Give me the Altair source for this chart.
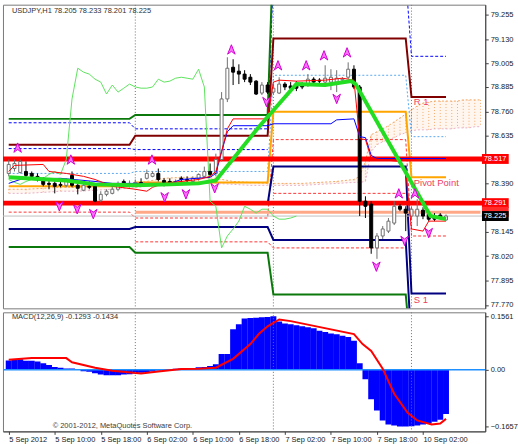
import altair as alt
import pandas as pd

# ---------------- USDJPY H1 candles (bar 0 = 5 Sep 2012 02:00) ----------------
opens = [78.443, 78.468, 78.448, 78.453, 78.443, 78.428, 78.412, 78.392, 78.392, 78.387,
         78.382, 78.433, 78.382, 78.357, 78.377, 78.377, 78.306, 78.336, 78.341, 78.362,
         78.402, 78.387, 78.387, 78.397, 78.418, 78.428, 78.443, 78.407, 78.402, 78.397,
         78.418, 78.412, 78.402, 78.418, 78.428, 78.453, 78.443, 78.514, 78.824, 78.986,
         78.966, 78.951, 78.935, 78.915, 78.854, 78.895, 78.859, 78.854, 78.900, 78.890,
         78.895, 78.895, 78.895, 78.925, 78.920, 78.910, 78.910, 78.910, 78.920, 78.935,
         78.976, 78.885, 78.301, 78.286, 78.062, 78.123, 78.148, 78.189, 78.275, 78.260,
         78.225, 78.225, 78.255, 78.235, 78.225, 78.230, 78.205]
highs = [78.514, 78.514, 78.514, 78.504, 78.453, 78.443, 78.423, 78.412, 78.402, 78.407,
         78.418, 78.453, 78.402, 78.397, 78.402, 78.387, 78.352, 78.362, 78.377, 78.402,
         78.412, 78.407, 78.412, 78.418, 78.463, 78.453, 78.468, 78.418, 78.418, 78.412,
         78.428, 78.428, 78.428, 78.443, 78.478, 78.494, 78.544, 78.859, 79.037, 79.027,
         79.001, 78.971, 78.951, 78.920, 78.910, 78.910, 78.900, 78.935, 78.910, 78.910,
         78.915, 78.910, 78.951, 78.935, 78.930, 78.996, 78.976, 78.971, 78.935, 79.011,
         78.996, 78.895, 78.326, 78.301, 78.138, 78.174, 78.215, 78.301, 78.286, 78.275,
         78.275, 78.311, 78.270, 78.250, 78.240, 78.240, 78.233]
lows = [78.428, 78.453, 78.443, 78.418, 78.423, 78.402, 78.377, 78.362, 78.341, 78.372,
        78.372, 78.372, 78.336, 78.352, 78.362, 78.296, 78.296, 78.326, 78.336, 78.352,
        78.372, 78.372, 78.377, 78.382, 78.412, 78.423, 78.402, 78.377, 78.382, 78.387,
        78.397, 78.392, 78.392, 78.407, 78.423, 78.428, 78.428, 78.504, 78.808, 78.895,
        78.900, 78.910, 78.895, 78.844, 78.844, 78.849, 78.849, 78.849, 78.869, 78.859,
        78.864, 78.874, 78.885, 78.900, 78.900, 78.900, 78.869, 78.859, 78.910, 78.925,
        78.874, 78.225, 78.215, 78.032, 78.006, 78.108, 78.138, 78.179, 78.250, 78.148,
        78.209, 78.174, 78.209, 78.199, 78.199, 78.209, 78.201]
closes = [78.489, 78.494, 78.504, 78.433, 78.428, 78.412, 78.387, 78.387, 78.377, 78.382,
          78.407, 78.382, 78.367, 78.382, 78.372, 78.301, 78.336, 78.352, 78.362, 78.392,
          78.382, 78.392, 78.397, 78.392, 78.443, 78.443, 78.412, 78.397, 78.387, 78.402,
          78.412, 78.407, 78.418, 78.438, 78.453, 78.438, 78.514, 78.824, 78.981, 78.961,
          78.951, 78.925, 78.910, 78.849, 78.895, 78.859, 78.879, 78.900, 78.885, 78.879,
          78.879, 78.885, 78.925, 78.910, 78.915, 78.930, 78.935, 78.930, 78.925, 78.976,
          78.885, 78.301, 78.275, 78.062, 78.123, 78.159, 78.199, 78.275, 78.260, 78.240,
          78.260, 78.260, 78.225, 78.209, 78.209, 78.215, 78.225]

# time axis
x_tick_idx = [0, 8, 16, 24, 32, 40, 48, 56, 64, 72]
x_tick_txt = ["5 Sep 2012", "5 Sep 10:00", "5 Sep 18:00", "6 Sep 02:00", "6 Sep 10:00",
              "6 Sep 18:00", "7 Sep 02:00", "7 Sep 10:00", "7 Sep 18:00", "10 Sep 02:00"]
day_breaks = [22, 46, 70]
day_first = [0, 22, 46, 70]
day_last = [21, 45, 69, 76]

price_ticks = [79.255, 79.130, 79.005, 78.885, 78.760, 78.635, 78.390, 78.145,
               78.020, 77.895, 77.770]

# daily pivot levels (one value per trading day, None = not drawn)
lvl_maroon = [78.590, 78.636, 79.133, 78.834]
lvl_orange = [78.377, 78.397, 78.758, 78.423]
lvl_navy_a = [78.291, 78.286, 78.478, 77.829]
lvl_navy_b = [78.159, 78.169, 78.103, 77.550]
lvl_green_a = [78.722, 78.742, 79.600, None]
lvl_green_b = [78.067, 78.037, 77.824, 77.500]
lvl_blue_a = [78.702, 78.671, 79.450, 79.042]
lvl_blue_b = [78.570, 78.565, None, None]
lvl_sky = [78.443, 78.453, 78.945, 78.631]
lvl_red_a = [78.245, 78.215, 78.616, 78.123]
lvl_red_b = [None, 78.093, 78.062, None]
lvl_red_c = [None, None, 78.341, None]

# horizontal lines
hline_red = [78.517, 78.291]
hline_salmon = 78.245
bid_price = 78.225

# Ichimoku: Tenkan-sen / Kijun-sen vertices
tenkan_i = [0, 1, 6, 7, 10, 13, 15, 18, 22, 24, 25, 27, 30, 33, 35, 36, 37, 38, 39, 45,
            46, 47, 50, 55, 58, 60, 61, 62, 63, 68, 69, 70, 72, 73, 76]
tenkan_p = [78.453, 78.484, 78.489, 78.453, 78.443, 78.428, 78.412, 78.377, 78.362, 78.352,
            78.372, 78.392, 78.402, 78.412, 78.428, 78.453, 78.555, 78.671, 78.722, 78.722,
            78.910, 78.920, 78.915, 78.920, 78.930, 78.920, 78.621, 78.616, 78.519, 78.504,
            78.453, 78.159, 78.148, 78.199, 78.199]
kijun_i = [0, 2, 9, 15, 18, 28, 30, 35, 36, 37, 38, 39, 45, 46, 56, 57, 60, 61, 62, 63, 64, 76]
kijun_p = [78.392, 78.412, 78.418, 78.402, 78.392, 78.392, 78.412, 78.423, 78.443, 78.555,
           78.656, 78.687, 78.687, 78.697, 78.697, 78.717, 78.722, 78.631, 78.626, 78.535,
           78.519, 78.519]
# Kumo (Senkou span A / B)
cloud_i = [0, 3, 6, 9, 12, 15, 18, 21, 24, 27, 30, 33, 36, 39, 42, 45, 48, 51, 54, 57, 60,
           61, 62, 63, 64, 65, 66, 67, 68, 69, 70, 71, 72, 73, 74, 75, 76, 77, 78, 79, 80, 81, 82]
cloud_a = [78.362, 78.362, 78.367, 78.372, 78.372, 78.377, 78.382, 78.387, 78.402, 78.418,
           78.423, 78.423, 78.418, 78.402, 78.397, 78.392, 78.392, 78.392, 78.397, 78.402,
           78.412, 78.428, 78.504, 78.641, 78.656, 78.671, 78.687, 78.707, 78.727, 78.747,
           78.768, 78.788, 78.803, 78.808, 78.813, 78.813, 78.813, 78.813, 78.813, 78.819,
           78.819, 78.819, 78.819]
cloud_b = [78.341, 78.341, 78.346, 78.352, 78.352, 78.357, 78.362, 78.367, 78.377, 78.387,
           78.392, 78.392, 78.392, 78.387, 78.382, 78.382, 78.382, 78.382, 78.387, 78.392,
           78.397, 78.397, 78.402, 78.555, 78.590, 78.605, 78.616, 78.626, 78.641, 78.651,
           78.661, 78.666, 78.666, 78.666, 78.671, 78.671, 78.671, 78.671, 78.676, 78.676,
           78.676, 78.682, 78.682]

# trend line (thick green)
trend_i = [0, 10, 15, 22, 28, 33, 36, 43.5, 50, 55, 59.5, 60.3, 73.3, 76]
trend_p = [78.423, 78.407, 78.387, 78.382, 78.387, 78.392, 78.407, 78.682, 78.900, 78.895,
           78.915, 78.900, 78.225, 78.209]

# fractal arrows
arrow_i = [1.55, 10.8, 24.9, 38.7, 46.8, 51.7, 54.8, 58.8, 67.8, 70.6,
           8.8, 11.9, 14.7, 27.1, 30.8, 35.8, 44.8, 57.0, 63.9, 68.8, 73.0]
arrow_p = [78.575, 78.514, 78.514, 79.077, 78.996, 78.996, 79.047, 79.062, 78.341, 78.341,
           78.275, 78.260, 78.235, 78.321, 78.336, 78.367, 78.808, 78.824, 77.966, 78.098, 78.138]
arrow_dir = ["up"] * 10 + ["down"] * 11

# pivot captions
caption_txt = ["R 1", "Pivot Point", "S 1"]
caption_i = [70.4, 70.4, 70.4]
caption_p = [78.808, 78.392, 77.793]

# price tags in the right margin (the 78.247 one sits mostly under the bid tag)
tag_txt = ["78.517", "78.291", "", "78.225"]
tag_p = [78.517, 78.291, 78.247, 78.225]
tag_bg = ["#ff0000", "#ff0000", "#ff2a2a", "#000000"]

# ---------------- MACD(12,26,9) ----------------
macd_hist = [0.027, 0.031, 0.031, 0.026, 0.026, 0.024, 0.019, 0.014, 0.008, 0.006,
             0.004, 0.004, 0.001, -0.004, -0.006, -0.010, -0.014, -0.016, -0.016, -0.016,
             -0.014, -0.013, -0.011, -0.009, -0.007, -0.005, -0.002, -0.001, 0.002, 0.003,
             0.004, 0.004, 0.005, 0.007, 0.008, 0.011, 0.016, 0.046, 0.046, 0.118,
             0.133, 0.150, 0.151, 0.152, 0.153, 0.154, 0.1561, 0.141, 0.135, 0.133,
             0.130, 0.127, 0.124, 0.121, 0.114, 0.110, 0.106, 0.104, 0.099, 0.096,
             0.085, 0.019, -0.028, -0.086, -0.119, -0.148, -0.160, -0.163, -0.1657, -0.1657,
             -0.165, -0.163, -0.160, -0.157, -0.152, -0.146, -0.1293]
signal_i = [0, 4, 10, 11, 15, 18, 23, 26, 30, 33, 36, 39, 42, 43.5, 45, 47, 49, 60, 61.5,
            63, 65, 67, 69.3, 71, 73.5, 75, 76]
signal_v = [0.029, 0.034, 0.034, 0.022, 0.006, -0.003, -0.011, -0.005, 0.002, 0.003, 0.006,
            0.032, 0.075, 0.105, 0.127, 0.147, 0.142, 0.104, 0.075, 0.055, 0.003, -0.070,
            -0.125, -0.148, -0.160, -0.157, -0.1434]
macd_ticks = [0.1561, 0.0, -0.1657]

# ---------------- scales / helpers ----------------
W, H_TOP, H_MACD = 486, 306, 120
FONT = "Liberation Sans"
xs = alt.Scale(domain=[-0.135, 81.96], nice=False, zero=False)
ps = alt.Scale(domain=[77.753, 79.306], nice=False, zero=False)
ms = alt.Scale(domain=[-0.180, 0.1678], nice=False, zero=False)

p_axis = alt.Axis(orient="right", values=price_ticks, format=".3f", title=None,
                  tickSize=3, labelPadding=2, grid=False, labelOverlap=False)
m_axis = alt.Axis(orient="right", values=macd_ticks, title=None, tickSize=3, labelPadding=2,
                  grid=False, labelOverlap=False,
                  labelExpr="datum.value == 0 ? '0.00' : format(datum.value, '.4f')")
lab_expr = "''"
for k, t in reversed(list(zip(x_tick_idx, x_tick_txt))):
    lab_expr = f"datum.value == {k} ? '{t}' : ({lab_expr})"
x_axis = alt.Axis(values=x_tick_idx, labelExpr=lab_expr, labelAlign="left", title=None,
                  tickSize=3, labelPadding=1, grid=False, labelOverlap=False)


def X(f, axis=None):
    return alt.X(f, type="quantitative", scale=xs, axis=axis)


def P(f):
    return alt.Y(f, type="quantitative", scale=ps, axis=p_axis)


def M(f):
    return alt.Y(f, type="quantitative", scale=ms, axis=m_axis)


# ---------------- price panel ----------------
n = len(closes)
cdf = pd.DataFrame({"i": range(n), "o": opens, "h": highs, "l": lows, "c": closes})
is_up = "datum.c >= datum.o"

layers = []

cloud = pd.DataFrame({"i": cloud_i, "a": cloud_a, "b": cloud_b})
layers.append(alt.Chart(cloud).mark_area(color="#f4a460", opacity=0.10, clip=True)
              .encode(x=X("i"), y=P("a"), y2="b"))
layers.append(alt.Chart(cloud).mark_rule(color="#f4a460", strokeDash=[1, 2], opacity=0.9, clip=True)
              .encode(x=X("i"), y=P("a"), y2="b"))
layers.append(alt.Chart(cloud).mark_line(color="#f4a460", strokeDash=[2, 2], strokeWidth=1, clip=True)
              .encode(x=X("i"), y=P("a")))
layers.append(alt.Chart(cloud).mark_line(color="#e8b0c8", strokeDash=[2, 2], strokeWidth=1, clip=True)
              .encode(x=X("i"), y=P("b")))

sep = pd.DataFrame({"i": day_breaks})
layers.append(alt.Chart(sep).mark_rule(color="#707070", strokeDash=[1, 2], clip=True).encode(x=X("i")))

pivot_styles = [
    (lvl_sky, "#5aa8f0", [2, 2], 1),
    (lvl_red_a, "#ff3333", [3, 2], 1),
    (lvl_red_b, "#ff3333", [3, 2], 1),
    (lvl_red_c, "#ff3333", [3, 2], 1),
    (lvl_blue_a, "#0000ff", [3, 2], 1),
    (lvl_blue_b, "#0000ff", [3, 2], 1),
    (lvl_green_a, "#0a780a", None, 2),
    (lvl_green_b, "#0a780a", None, 2),
    (lvl_navy_a, "#000080", None, 2),
    (lvl_navy_b, "#000080", None, 2),
    (lvl_orange, "#ffa500", None, 2),
    (lvl_maroon, "#800000", None, 2),
]
for lv, col, dash, w in pivot_styles:
    rows, seg, k = [], 0, 0
    for d, v in enumerate(lv):
        if v is None:
            seg += 1
            continue
        for i in (day_first[d], day_last[d]):
            rows.append({"i": i, "p": v, "seg": seg, "k": k})
            k += 1
    kw = dict(color=col, strokeWidth=w, clip=True)
    if dash:
        kw["strokeDash"] = dash
    layers.append(alt.Chart(pd.DataFrame(rows)).mark_line(**kw)
                  .encode(x=X("i"), y=P("p"), detail="seg:N", order="k:Q"))

salmon = pd.DataFrame({"i": [22, 82], "p": [hline_salmon, hline_salmon]})
layers.append(alt.Chart(salmon).mark_line(color="#ffa888", strokeWidth=3, clip=True)
              .encode(x=X("i"), y=P("p")))
layers.append(alt.Chart(pd.DataFrame({"p": [bid_price]}))
              .mark_rule(color="#c0c0c0", strokeWidth=1, clip=True).encode(y=P("p")))
layers.append(alt.Chart(pd.DataFrame({"p": hline_red}))
              .mark_rule(color="#ff0000", strokeWidth=5, clip=True).encode(y=P("p")))

# lagging span: closes drawn 26 bars back
chikou = pd.DataFrame({"i": range(n - 26), "p": closes[26:]})
layers.append(alt.Chart(chikou).mark_line(color="#5fe35f", strokeWidth=1, clip=True)
              .encode(x=X("i"), y=P("p")))

layers.append(alt.Chart(cdf).mark_rule(strokeWidth=1, clip=True).encode(
    x=X("i"), y=P("l"), y2="h",
    color=alt.condition(is_up, alt.value("#707070"), alt.value("#000000"))))
layers.append(alt.Chart(cdf).mark_bar(size=3, strokeWidth=1, clip=True).encode(
    x=X("i"), y=P("o"), y2="c",
    fill=alt.condition(is_up, alt.value("#ffffff"), alt.value("#000000")),
    stroke=alt.condition(is_up, alt.value("#707070"), alt.value("#000000"))))

layers.append(alt.Chart(pd.DataFrame({"i": kijun_i, "p": kijun_p}))
              .mark_line(color="#0000ff", strokeWidth=1, clip=True).encode(x=X("i"), y=P("p")))
layers.append(alt.Chart(pd.DataFrame({"i": tenkan_i, "p": tenkan_p}))
              .mark_line(color="#ff0000", strokeWidth=1, clip=True).encode(x=X("i"), y=P("p")))
layers.append(alt.Chart(pd.DataFrame({"i": trend_i, "p": trend_p}))
              .mark_line(color="#22dd22", strokeWidth=4, clip=True).encode(x=X("i"), y=P("p")))

UP = "M0,-1L0.8,1L0,0.4L-0.8,1Z"
DOWN = "M0,1L0.8,-1L0,-0.4L-0.8,-1Z"
arrows = pd.DataFrame({"i": arrow_i, "p": arrow_p, "d": arrow_dir})
layers.append(alt.Chart(arrows).mark_point(filled=True, size=90, fill="#ff70ff", stroke="#d000d0",
                                           strokeWidth=1, opacity=1, clip=True).encode(
    x=X("i"), y=P("p"),
    shape=alt.condition("datum.d == 'up'", alt.value(UP), alt.value(DOWN))))

caps = pd.DataFrame({"i": caption_i, "p": caption_p, "t": caption_txt})
layers.append(alt.Chart(caps).mark_text(align="left", baseline="middle", font=FONT, fontSize=9.5,
                                        color="#f0405c").encode(x=X("i"), y=P("p"), text="t"))

head = pd.DataFrame({"i": [0.55], "p": [79.275],
                     "t": ["USDJPY,H1  78.205 78.233 78.201 78.225"]})
layers.append(alt.Chart(head).mark_text(align="left", baseline="middle", font=FONT, fontSize=7.5,
                                        color="#303030").encode(x=X("i"), y=P("p"), text="t"))

tags = pd.DataFrame({"p": tag_p, "t": tag_txt, "bg": tag_bg, "x0": 82.25, "x1": 86.9, "xt": 82.55})
for r in tags.itertuples():
    one = tags.iloc[[r.Index]]
    layers.append(alt.Chart(one).mark_rule(strokeWidth=10, color=r.bg)
                  .encode(x=X("x0"), x2="x1", y=P("p")))
    if r.t:
        layers.append(alt.Chart(one).mark_text(align="left", baseline="middle", font=FONT,
                                               fontSize=7.5, color="#ffffff")
                      .encode(x=X("xt"), y=P("p"), text="t"))

top = alt.layer(*layers).properties(width=W, height=H_TOP)

# ---------------- MACD panel ----------------
hist = pd.DataFrame({"i": range(len(macd_hist)), "v": macd_hist})
sig = pd.DataFrame({"i": signal_i, "v": signal_v})
mlayers = [
    alt.Chart(hist).mark_bar(size=6, color="#0000ff", clip=True).encode(
        x=X("i", x_axis), y=M("v"), y2=alt.datum(0)),
    alt.Chart(pd.DataFrame({"v": [0.0]})).mark_rule(color="#1e90ff", strokeWidth=1.5, clip=True)
    .encode(y=M("v")),
    alt.Chart(sig).mark_line(color="#ff0000", strokeWidth=2, clip=True).encode(x=X("i", x_axis), y=M("v")),
    alt.Chart(sep).mark_rule(color="#707070", strokeDash=[1, 2], clip=True).encode(x=X("i", x_axis)),
    alt.Chart(pd.DataFrame({"i": [0.55], "v": [0.153], "t": ["MACD(12,26,9) -0.1293 -0.1434"]}))
    .mark_text(align="left", baseline="middle", font=FONT, fontSize=7.5, color="#303030")
    .encode(x=X("i", x_axis), y=M("v"), text="t"),
    alt.Chart(pd.DataFrame({"i": [7.64], "v": [-0.164],
                            "t": ["\u00a9 2001-2012, MetaQuotes Software Corp."]}))
    .mark_text(align="left", baseline="middle", font=FONT, fontSize=7.5, color="#404040")
    .encode(x=X("i", x_axis), y=M("v"), text="t"),
]
bottom = alt.layer(*mlayers).properties(width=W, height=H_MACD)

chart = (alt.vconcat(top, bottom, spacing=2)
         .resolve_scale(y="independent")
         .properties(padding={"left": 2, "top": 2, "right": 0, "bottom": 0}, background="white")
         .configure(padding={"left": 2, "top": 2, "right": 0, "bottom": 0})
         .configure_view(stroke="#7a7a7a", strokeWidth=1)
         .configure_axis(labelFont=FONT, labelFontSize=7.5, labelColor="#202020",
                         tickColor="#404040", domainColor="#404040"))

chart.save("out.html", embed_options={"renderer": "svg", "actions": False})
